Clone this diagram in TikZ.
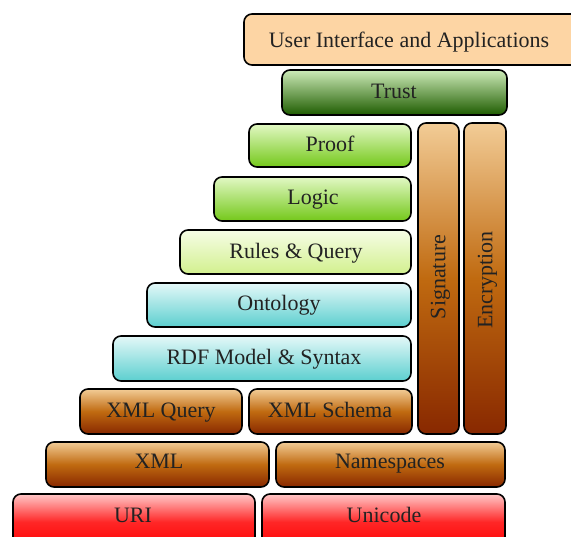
\documentclass[tikz,border=0pt]{standalone}
\usepackage{fontspec}
\setmainfont{Liberation Serif}
\definecolor{peach}{HTML}{FDD5A4}
\definecolor{trustT}{HTML}{CDEBB8}
\definecolor{trustB}{HTML}{1E5C00}
\definecolor{proofT}{HTML}{E2F8C4}
\definecolor{proofB}{HTML}{74C81A}
\definecolor{rulesT}{HTML}{F6FDE6}
\definecolor{rulesB}{HTML}{D2F08E}
\definecolor{ontoT}{HTML}{E4F8F8}
\definecolor{ontoB}{HTML}{5CCFCF}
\definecolor{xmlT}{HTML}{F2CC96}
\definecolor{xmlM}{HTML}{C06A10}
\definecolor{xmlB}{HTML}{882800}
\definecolor{uriT}{HTML}{FFC8C8}
\definecolor{uriB}{HTML}{FF0000}
\definecolor{txt}{HTML}{222222}
\tikzset{
  layer/.style={draw=black, line width=1.6pt, rounded corners=8pt},
  lbl/.style={text=txt, font=\fontsize{22}{24}\selectfont, inner sep=0pt, text height=15pt, text depth=0.4pt},
  peachbox/.style={layer, fill=peach},
  trustbox/.style={layer, top color=trustT, bottom color=trustB},
  proofbox/.style={layer, top color=proofT, bottom color=proofB},
  rulesbox/.style={layer, top color=rulesT, bottom color=rulesB},
  ontobox/.style={layer, top color=ontoT, bottom color=ontoB},
  xmlbox/.style={layer, top color=xmlT, bottom color=xmlB, middle color=xmlM},
  uribox/.style={layer, top color=uriT, bottom color=uriB, middle color=uriB!85!white},
}
\begin{document}
\begin{tikzpicture}[x=1pt,y=-1pt]
\useasboundingbox (0,0) rectangle (571,537);
\begin{scope}
\clip (0,0) rectangle (571,537);
% top
\path[peachbox] (244,14) rectangle (585,65);
\node[lbl] (ui) at (409,40) {User Interface and Applications};
\path[trustbox] (282,70) rectangle (507,115);
\node[lbl] (trust) at (394,91) {Trust};
\path[proofbox] (249,124) rectangle (411,167);
\node[lbl] (proof) at (330,144) {Proof};
\path[proofbox] (214,177) rectangle (411,221);
\node[lbl] (logic) at (313,197) {Logic};
\path[rulesbox] (180,230) rectangle (411,274);
\node[lbl] (rules) at (296,251) {Rules \& Query};
\path[ontobox] (147,283) rectangle (411,327);
\node[lbl] (onto) at (279,303) {Ontology};
\path[ontobox] (113,336) rectangle (411,381);
\node[lbl] (rdf) at (264,357) {RDF Model \& Syntax};
\path[xmlbox] (80,389) rectangle (242,434);
\node[lbl] (xq) at (161,410) {XML Query};
\path[xmlbox] (249,389) rectangle (412,434);
\node[lbl] (xs) at (330,410) {XML Schema};
\path[xmlbox] (46,442) rectangle (269,487);
\node[lbl] (xml) at (159,461) {XML};
\path[xmlbox] (276,442) rectangle (505,487);
\node[lbl] (ns) at (390,461) {Namespaces};
\path[uribox] (13,494) rectangle (255,550);
\node[lbl] (uri) at (133,515) {URI};
\path[uribox] (262,494) rectangle (505,550);
\node[lbl] (uc) at (384,515) {Unicode};
% vertical
\path[xmlbox] (418,123) rectangle (459,434);
\node[lbl, rotate=90] (sig) at (438,277) {Signature};
\path[xmlbox] (464,123) rectangle (506,434);
\node[lbl, rotate=90] (enc) at (485,280) {Encryption};
\end{scope}
\end{tikzpicture}
\end{document}
